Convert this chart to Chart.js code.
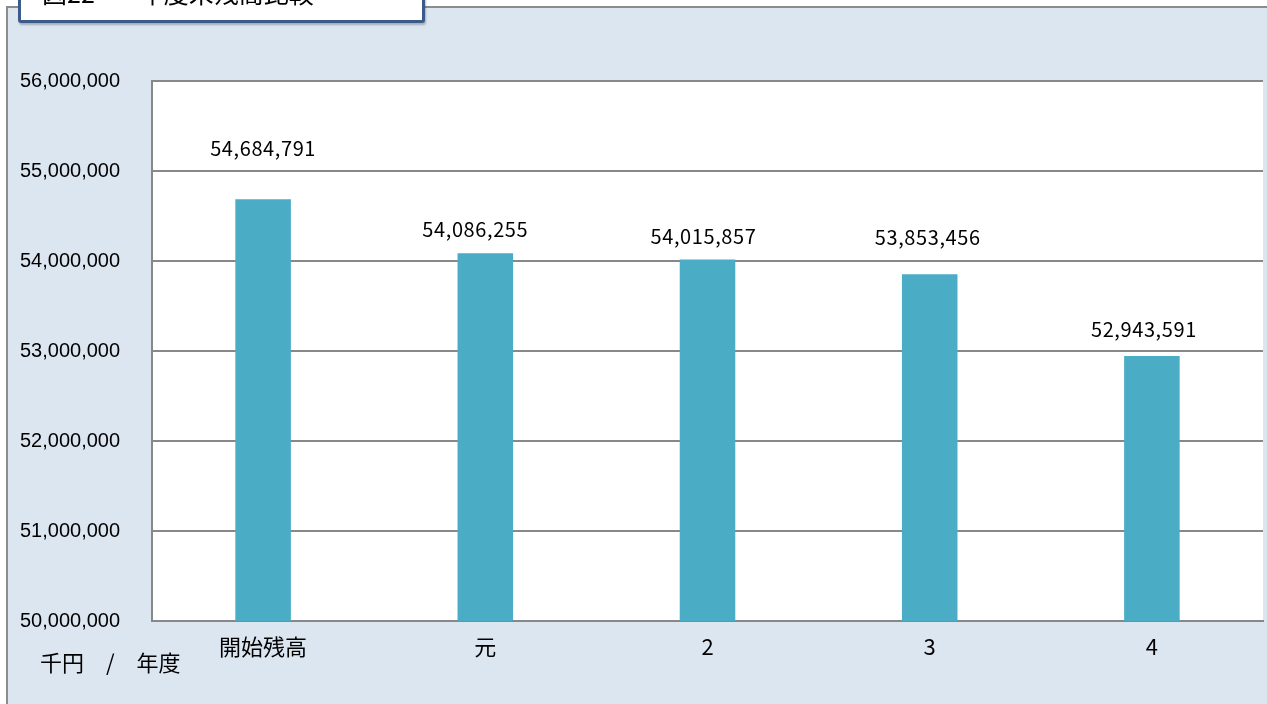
<!DOCTYPE html>
<html>
<head>
<meta charset="utf-8">
<script src="https://cdn.jsdelivr.net/npm/chart.js@4.4.1/dist/chart.umd.min.js"></script>
<style>
  html, body { margin: 0; padding: 0; background: #ffffff; overflow: hidden; }
  #panel {
    position: absolute; left: 6px; top: 6px; width: 1280px; height: 720px;
    background: #dce6f1; border-left: 2px solid #8c8c8c; border-top: 2px solid #8c8c8c;
  }
  #wrap { position: absolute; left: 0; top: 0; width: 1267px; height: 704px; }
  #title {
    position: absolute; left: 18px; top: -20px; width: 401px; height: 37px;
    background: #ffffff; border: 3px solid #3c5a8a; border-radius: 3px;
    box-shadow: 1px 2px 2px rgba(0,0,0,0.25);
    font-family: "Noto Sans CJK JP", sans-serif; font-size: 25px; color: #000;
  }
  #title .txt { position: absolute; left: 21px; top: -9px; white-space: pre; }
  #title .gap { display: inline-block; width: 44px; }
  #unit {
    position: absolute; left: 40px; top: 645px;
    font-family: "Noto Sans CJK JP", sans-serif; font-size: 22px; color: #000; white-space: pre;
  }
</style>
</head>
<body>
<div id="panel"></div>
<div id="wrap"><canvas id="chart" width="1267" height="704"></canvas></div>
<div id="title"><span class="txt">図22<span class="gap"> </span>年度末残高比較</span></div>
<div id="unit">千円　/　年度</div>
<script>
const categories = ['開始残高', '元', '2', '3', '4'];
const balances = [54684791, 54086255, 54015857, 53853456, 52943591];
const yTicks = [50000000, 51000000, 52000000, 53000000, 54000000, 55000000, 56000000];

// label lift above bar top, px (labels were hand-placed in the original)
const labelLift = [51, 24, 23, 37, 27];
const labelShift = [0, -10, -4, -2, -8];

const plotBackground = {
    id: 'plotBackground',
    beforeDraw(chart) {
        const { ctx, chartArea: a } = chart;
        ctx.save();
        ctx.fillStyle = '#ffffff';
        ctx.fillRect(a.left, a.top, a.right - a.left, a.bottom - a.top);
        ctx.restore();
    }
};

const valueLabels = {
    id: 'valueLabels',
    afterDatasetsDraw(chart) {
        const { ctx } = chart;
        const meta = chart.getDatasetMeta(0);
        ctx.save();
        ctx.font = '20px "Noto Sans CJK JP", sans-serif';
        ctx.letterSpacing = '0.6px';
        ctx.fillStyle = '#000';
        ctx.textAlign = 'center';
        ctx.textBaseline = 'middle';
        meta.data.forEach((bar, i) => {
            ctx.fillText(balances[i].toLocaleString('en-US'), bar.x + labelShift[i], bar.y - labelLift[i]);
        });
        ctx.restore();
    }
};

new Chart(document.getElementById('chart'), {
    type: 'bar',
    data: {
        labels: categories,
        datasets: [{
            data: balances,
            backgroundColor: '#4bacc6',
            barPercentage: 0.25,
            categoryPercentage: 1
        }]
    },
    options: {
        responsive: false,
        animation: false,
        events: [],
        layout: { padding: { left: 20, top: 81, right: 4, bottom: 0 } },
        plugins: { legend: { display: false }, tooltip: { enabled: false } },
        scales: {
            x: {
                grid: { display: false, drawTicks: false },
                border: { display: true, color: '#888888', width: 2 },
                ticks: {
                    color: '#000',
                    padding: 12,
                    font: { family: '"Noto Sans CJK JP", sans-serif', size: 22 }
                },
                afterFit(s) { s.height = 83; }
            },
            y: {
                min: 50000000,
                max: 56000000,
                afterBuildTicks(s) { s.ticks = yTicks.map(v => ({ value: v })); },
                grid: { color: '#888888', lineWidth: 2, drawTicks: false },
                border: { display: true, color: '#888888', width: 2 },
                ticks: {
                    color: '#000',
                    crossAlign: 'far',
                    padding: 0,
                    font: { family: '"Liberation Sans", Arial, sans-serif', size: 20 },
                    callback: v => v.toLocaleString('en-US')
                },
                afterFit(s) { s.width = 132; }
            }
        }
    },
    plugins: [plotBackground, valueLabels]
});
</script>
</body>
</html>
